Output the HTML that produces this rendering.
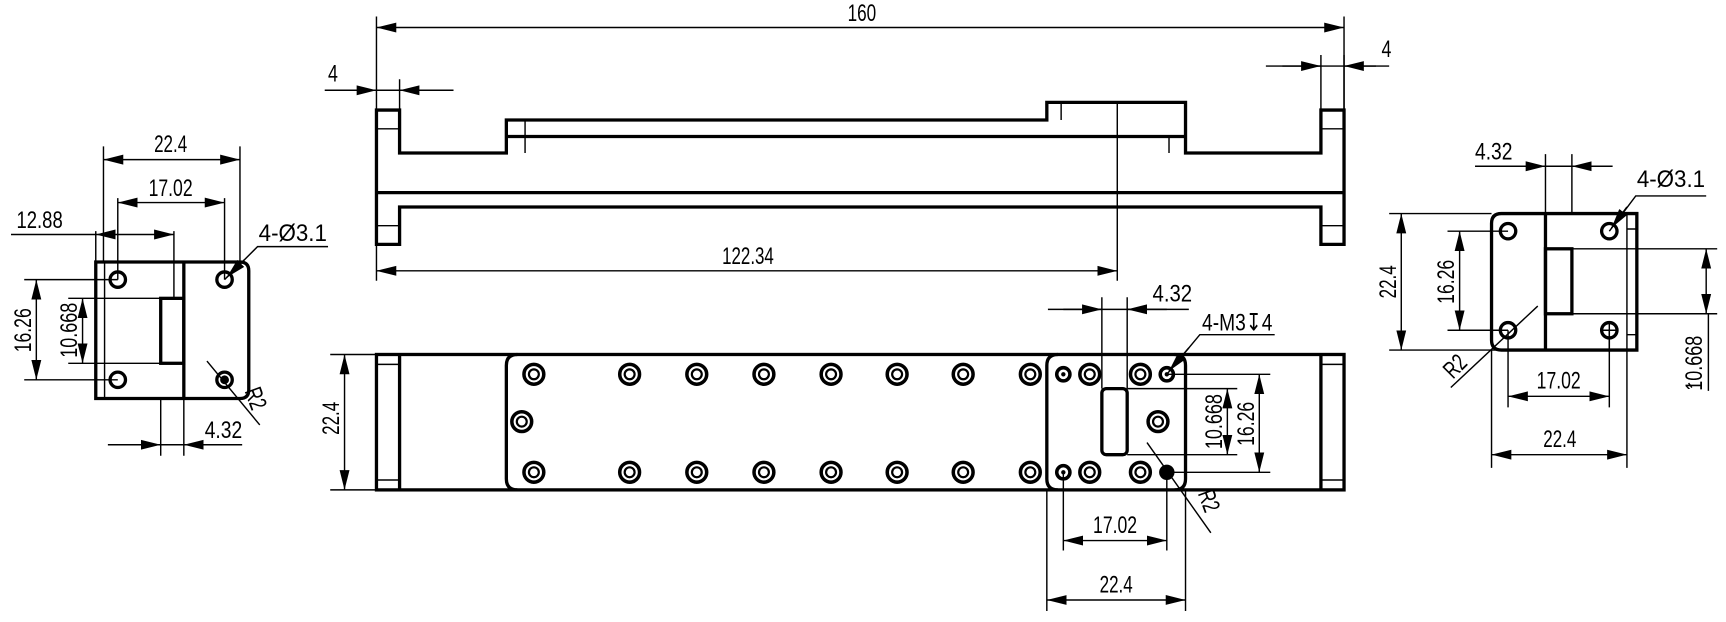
<!DOCTYPE html>
<html><head><meta charset="utf-8"><style>html,body{margin:0;padding:0;background:#fff;overflow:hidden}svg{display:block}</style></head>
<body>
<svg width="1726" height="622" viewBox="0 0 1568 565" preserveAspectRatio="none" xmlns="http://www.w3.org/2000/svg">
<defs>
<marker id="a" markerUnits="userSpaceOnUse" markerWidth="20" markerHeight="10" refX="18" refY="5" orient="auto-start-reverse"><path d="M0,0.5 L18,5 L0,9.5 Z" fill="#000"/></marker>
</defs>
<style>
.t{stroke:#000;stroke-width:3;fill:none}
.m{stroke:#000;stroke-width:1.3;fill:none}
.d{stroke:#000;stroke-width:1.3;fill:none;marker-start:url(#a);marker-end:url(#a)}
.e{stroke:#000;stroke-width:1.3;fill:none;marker-end:url(#a)}
text{font-family:"Liberation Sans Narrow","Liberation Sans",sans-serif;font-size:22px;fill:#000}
</style>

<!-- ===== TOP VIEW ===== -->
<g>
<path class="t" d="M342,100 V222 H363 V188 H1200 V222 H1221 V100 H1200 V139 H1077 V93 H951 V109 H460 V139 H363 V100 Z"/>
<path class="t" d="M342,175 H1221"/>
<path class="t" d="M460,124 H1077"/>
<path class="m" d="M477,109 V139 M964,93 V109 M1062,124 V139 M342,117 H363 M342,205 H363 M1200,117 H1221 M1200,205 H1221"/>
<path class="m" d="M342,15 V100 M1221,15 V100"/>
<path class="d" d="M342,25 H1221"/>
<text x="770" y="19" textLength="26" lengthAdjust="spacingAndGlyphs">160</text>
<path class="m" d="M363,72 V100 M295,82 H412"/>
<path class="e" d="M310,82 H342"/><path class="e" d="M397,82 H363"/>
<text x="298" y="74" textLength="9" lengthAdjust="spacingAndGlyphs">4</text>
<path class="m" d="M1200,50 V100 M1221,50 V100 M1150,60 H1262"/>
<path class="e" d="M1165,60 H1200"/><path class="e" d="M1250,60 H1221"/>
<text x="1255" y="52" textLength="9" lengthAdjust="spacingAndGlyphs">4</text>
<path class="m" d="M342,222 V255 M1015,93 V255"/>
<path class="d" d="M342,246 H1015"/>
<text x="656" y="240" textLength="47" lengthAdjust="spacingAndGlyphs">122.34</text>
</g>

<!-- ===== FRONT VIEW ===== -->
<g>
<rect class="t" x="342" y="322" width="879" height="123"/>
<path class="t" d="M363,322 V445 M1200,322 V445"/>
<path class="m" d="M342,331 H363 M342,436 H363 M1200,331 H1221 M1200,436 H1221"/>
<path class="t" d="M470,322 Q460,322 460,332 V435 Q460,445 470,445"/>
<path class="t" d="M961,322 Q951,322 951,332 V435 Q951,445 961,445 M1067,322 Q1077,322 1077,332 V435 Q1077,445 1067,445"/>
<rect class="t" x="1001" y="353" width="23" height="60" rx="4"/>
<g fill="none" stroke="#000">
<g stroke-width="3.2">
<circle cx="485" cy="340" r="9"/><circle cx="572" cy="340" r="9"/><circle cx="633" cy="340" r="9"/><circle cx="694" cy="340" r="9"/><circle cx="755" cy="340" r="9"/><circle cx="815" cy="340" r="9"/><circle cx="875" cy="340" r="9"/><circle cx="936" cy="340" r="9"/><circle cx="990" cy="340" r="9"/><circle cx="1036" cy="340" r="9"/>
<circle cx="485" cy="429" r="9"/><circle cx="572" cy="429" r="9"/><circle cx="633" cy="429" r="9"/><circle cx="694" cy="429" r="9"/><circle cx="755" cy="429" r="9"/><circle cx="815" cy="429" r="9"/><circle cx="875" cy="429" r="9"/><circle cx="936" cy="429" r="9"/><circle cx="990" cy="429" r="9"/><circle cx="1036" cy="429" r="9"/>
<circle cx="474" cy="383" r="9"/><circle cx="1052" cy="383" r="9"/>
<circle cx="966" cy="340" r="6"/><circle cx="966" cy="429" r="6"/><circle cx="1060" cy="340" r="6"/>
</g>
<g stroke-width="2">
<circle cx="485" cy="340" r="4.5"/><circle cx="572" cy="340" r="4.5"/><circle cx="633" cy="340" r="4.5"/><circle cx="694" cy="340" r="4.5"/><circle cx="755" cy="340" r="4.5"/><circle cx="815" cy="340" r="4.5"/><circle cx="875" cy="340" r="4.5"/><circle cx="936" cy="340" r="4.5"/><circle cx="990" cy="340" r="4.5"/><circle cx="1036" cy="340" r="4.5"/>
<circle cx="485" cy="429" r="4.5"/><circle cx="572" cy="429" r="4.5"/><circle cx="633" cy="429" r="4.5"/><circle cx="694" cy="429" r="4.5"/><circle cx="755" cy="429" r="4.5"/><circle cx="815" cy="429" r="4.5"/><circle cx="875" cy="429" r="4.5"/><circle cx="936" cy="429" r="4.5"/><circle cx="990" cy="429" r="4.5"/><circle cx="1036" cy="429" r="4.5"/>
<circle cx="474" cy="383" r="4.5"/><circle cx="1052" cy="383" r="4.5"/>
</g>
</g>
<circle cx="966" cy="340" r="2" fill="#000"/><circle cx="966" cy="429" r="2" fill="#000"/><circle cx="1060" cy="340" r="2" fill="#000"/>
<circle cx="1060" cy="429" r="7" fill="#000"/>
<path class="m" d="M300,322 H342 M300,445 H342"/>
<path class="d" d="M313,322 V445"/>
<text transform="translate(308,380) rotate(-90)" text-anchor="middle" textLength="30" lengthAdjust="spacingAndGlyphs">22.4</text>
<path class="m" d="M1001,270 V353 M1024,270 V353 M952,281 H1080"/>
<path class="e" d="M966,281 H1001"/><path class="e" d="M1060,281 H1024"/>
<text x="1047" y="274" textLength="36" lengthAdjust="spacingAndGlyphs">4.32</text>
<path class="m" d="M1060,340 L1090,304 H1158"/>
<path class="e" d="M1080,316 L1062,337"/>
<text x="1092" y="300" textLength="64" lengthAdjust="spacingAndGlyphs">4-M3↧4</text>
<path class="m" d="M1024,353 H1124 M1024,413 H1124 M1060,340 H1154 M1060,429 H1154"/>
<path class="d" d="M1115,353 V413"/><path class="d" d="M1144,340 V429"/>
<text transform="translate(1110,383) rotate(-90)" text-anchor="middle" textLength="50" lengthAdjust="spacingAndGlyphs">10.668</text>
<text transform="translate(1139,385) rotate(-90)" text-anchor="middle" textLength="40" lengthAdjust="spacingAndGlyphs">16.26</text>
<path class="m" d="M1042,402 L1100,484"/>
<text transform="translate(1088,448) rotate(70)" textLength="20" lengthAdjust="spacingAndGlyphs">R2</text>
<path class="m" d="M966,429 V500 M1060,429 V500 M951,445 V555 M1077,445 V555"/>
<path class="d" d="M966,491 H1060"/><path class="d" d="M951,545 H1077"/>
<text x="993" y="484" textLength="40" lengthAdjust="spacingAndGlyphs">17.02</text>
<text x="999" y="538" textLength="30" lengthAdjust="spacingAndGlyphs">22.4</text>
</g>

<!-- ===== LEFT VIEW ===== -->
<g>
<path class="t" d="M87,238 H218 Q226,238 226,246 V354 Q226,362 218,362 H87 Z"/>
<path class="m" d="M95,238 V362"/>
<path class="t" d="M167,238 V362"/>
<rect class="t" x="146" y="271" width="21" height="59"/>
<g fill="none" stroke="#000" stroke-width="3"><circle cx="107" cy="254" r="7"/><circle cx="204" cy="254" r="7"/><circle cx="107" cy="345" r="7"/><circle cx="204" cy="345" r="7"/></g>
<circle cx="204" cy="345" r="4" fill="#000"/>
<path class="m" d="M94,133 V238 M218,133 V238 M107,180 V254 M204,180 V254 M87,210 V238 M158,210 V271"/>
<path class="d" d="M94,145 H218"/><path class="d" d="M107,184 H204"/>
<text x="140" y="138" textLength="30" lengthAdjust="spacingAndGlyphs">22.4</text>
<text x="135" y="178" textLength="40" lengthAdjust="spacingAndGlyphs">17.02</text>
<path class="m" d="M10,213 H87"/><path class="d" d="M87,213 H158"/>
<text x="15" y="207" textLength="42" lengthAdjust="spacingAndGlyphs">12.88</text>
<path class="m" d="M204,254 L234,224 H298"/><path class="e" d="M222,236 L206,252"/>
<text x="235" y="219" textLength="62" lengthAdjust="spacingAndGlyphs">4-Ø3.1</text>
<path class="m" d="M22,254 H107 M22,345 H107 M62,271 H146 M62,330 H146"/>
<path class="d" d="M33,254 V345"/><path class="d" d="M75,271 V330"/>
<text transform="translate(28,300) rotate(-90)" text-anchor="middle" textLength="40" lengthAdjust="spacingAndGlyphs">16.26</text>
<text transform="translate(70,300) rotate(-90)" text-anchor="middle" textLength="50" lengthAdjust="spacingAndGlyphs">10.668</text>
<path class="m" d="M188,328 L236,386"/>
<text transform="translate(222,355) rotate(70)" textLength="20" lengthAdjust="spacingAndGlyphs">R2</text>
<path class="m" d="M146,362 V414 M167,362 V414 M98,404 H220"/>
<path class="e" d="M112,404 H146"/><path class="e" d="M205,404 H167"/>
<text x="186" y="398" textLength="34" lengthAdjust="spacingAndGlyphs">4.32</text>
</g>

<!-- ===== RIGHT VIEW ===== -->
<g>
<path class="t" d="M1364,194 H1487 V318 H1364 Q1355,318 1355,309 V203 Q1355,194 1364,194 Z"/>
<path class="m" d="M1478,194 V318 M1478,208 H1487 M1478,304 H1487"/>
<path class="t" d="M1404,194 V318"/>
<rect class="t" x="1404" y="226" width="24" height="59"/>
<g fill="none" stroke="#000" stroke-width="3"><circle cx="1370" cy="210" r="7"/><circle cx="1462" cy="210" r="7"/><circle cx="1370" cy="300" r="7"/><circle cx="1462" cy="300" r="7"/></g>
<path class="m" d="M1462,293 V320 M1455,300 H1469"/>
<path class="m" d="M1404,140 V194 M1428,140 V194 M1340,151 H1465"/>
<path class="e" d="M1370,151 H1404"/><path class="e" d="M1462,151 H1428"/>
<text x="1340" y="145" textLength="34" lengthAdjust="spacingAndGlyphs">4.32</text>
<path class="m" d="M1462,210 L1486,178 H1550"/><path class="e" d="M1478,188 L1464,207"/>
<text x="1487" y="170" textLength="62" lengthAdjust="spacingAndGlyphs">4-Ø3.1</text>
<path class="m" d="M1262,194 H1355 M1262,318 H1404 M1315,210 H1370 M1315,300 H1370"/>
<path class="d" d="M1273,194 V318"/><path class="d" d="M1326,210 V300"/>
<text transform="translate(1268,256) rotate(-90)" text-anchor="middle" textLength="30" lengthAdjust="spacingAndGlyphs">22.4</text>
<text transform="translate(1321,256) rotate(-90)" text-anchor="middle" textLength="40" lengthAdjust="spacingAndGlyphs">16.26</text>
<path class="m" d="M1428,226 H1560 M1428,285 H1560 M1552,285 V355"/>
<path class="d" d="M1550,226 V285"/>
<text transform="translate(1546,330) rotate(-90)" text-anchor="middle" textLength="50" lengthAdjust="spacingAndGlyphs">10.668</text>
<path class="m" d="M1534,348 L1537,352"/>
<path class="m" d="M1397,278 L1318,352"/>
<text transform="translate(1320,345) rotate(-45)" textLength="20" lengthAdjust="spacingAndGlyphs">R2</text>
<path class="m" d="M1370,300 V370 M1462,300 V370 M1355,318 V425 M1478,318 V425"/>
<path class="d" d="M1370,360 H1462"/><path class="d" d="M1355,413 H1478"/>
<text x="1396" y="353" textLength="40" lengthAdjust="spacingAndGlyphs">17.02</text>
<text x="1402" y="406" textLength="30" lengthAdjust="spacingAndGlyphs">22.4</text>
</g>
</svg>
</body></html>
